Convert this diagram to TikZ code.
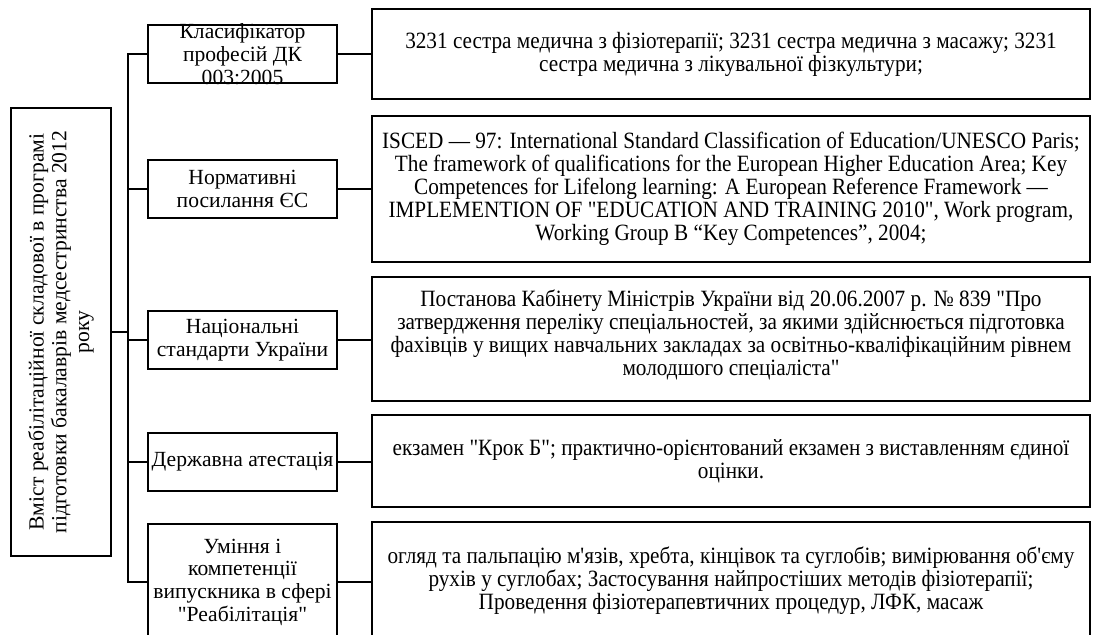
\documentclass[tikz,border=0pt]{standalone}
\usepackage{fontspec}
\newfontfamily\serif{Liberation Serif}
\newfontfamily\serifnarrow{Liberation Serif}[FakeStretch=0.91]
\newdimen\pxu \pxu=0.75pt
% fixed-size cell: width, height (in px units), centred text that may overflow
\newcommand\cell[3]{\parbox[c][#2\pxu][c]{#1\pxu}{\centering #3}}

\begin{document}
\begin{tikzpicture}[x=0.75pt,y=-0.75pt,
  frame/.style={inner sep=0pt, outer sep=0pt, fill=white},
  border/.style={line width=1.4pt},
  link/.style={line width=1.4pt},
  every node/.append style={font=\serif\fontsize{16.2pt}{17pt}\selectfont}]
\useasboundingbox (0,0) rectangle (1093,635);
\clip (0,0) rectangle (1093,635);

% root box with vertical caption
\node[frame, rotate=90] (L) at (61,332)
  {\cell{448}{100}{Вміст реабілітаційної складової в програмі\\ підготовки бакалаврів медсестринства 2012\\ року}};

% middle column
\node[frame] (m1) at (242.5,54)  {\cell{189}{58}{Класифікатор\\ професій ДК\\ 003:2005}};
\node[frame] (m2) at (242.5,189) {\cell{189}{58}{Нормативні\\ посилання ЄС}};
\node[frame] (m3) at (242.5,340) {\cell{189}{58}{Національні\\ стандарти України}};
\node[frame] (m4) at (242.5,462) {\cell{189}{58}{Державна атестація}};
\node[frame] (m5) at (242.5,582) {\cell{189}{116}{Уміння і\\ компетенції\\ випускника в сфері\\ "Реабілітація"}};

% right column
\tikzset{every node/.append style={font=\serifnarrow\fontsize{17.5pt}{17.25pt}\selectfont}}
\node[frame] (r1) at (731,54) {\cell{718}{90}{3231 сестра медична з фізіотерапії; 3231 сестра медична з масажу; 3231\\ сестра медична з лікувальної фізкультури;}};
\node[frame] (r2) at (731,189) {\cell{718}{146}{ISCED — 97: International Standard Classification of Education/UNESCO Paris;\\ The framework of qualifications for the European Higher Education Area; Key\\ Competences for Lifelong learning: A European Reference Framework —\\ IMPLEMENTION OF "EDUCATION AND TRAINING 2010", Work program,\\ Working Group B “Key Competences”, 2004;}};
\node[frame] (r3) at (731,339) {\cell{718}{124}{Постанова Кабінету Міністрів України від 20.06.2007 р. № 839 "Про\\ затвердження переліку спеціальностей, за якими здійснюється підготовка\\ фахівців у вищих навчальних закладах за освітньо-кваліфікаційним рівнем\\ молодшого спеціаліста"\vspace{8\pxu}}};
\node[frame] (r4) at (731,461) {\cell{718}{92}{екзамен "Крок Б"; практично-орієнтований екзамен з виставленням єдиної\\ оцінки.}};
\node[frame] (r5) at (731,581) {\cell{718}{118}{огляд та пальпацію м'язів, хребта, кінцівок та суглобів; вимірювання об'єму\\ рухів у суглобах; Застосування найпростіших методів фізіотерапії;\\ Проведення фізіотерапевтичних процедур, ЛФК, масаж}};

% box borders, drawn over any overflowing text
\foreach \n in {L,m1,m2,m3,m4,m5,r1,r2,r3,r4,r5}
  \draw[border] (\n.north west) rectangle (\n.south east);

% bus and branches
\coordinate (bus) at (128,0);
\draw[link] (L.south) -- (L.south -| bus);
\draw[link] (m1.west) -- (m1.west -| bus) -- (m5.west -| bus) -- (m5.west);
\foreach \i in {2,3,4} \draw[link] (m\i.west) -- (m\i.west -| bus);
\foreach \i in {1,...,5} \draw[link] (m\i.east) -- (m\i.east -| r\i.west);
\end{tikzpicture}
\end{document}
